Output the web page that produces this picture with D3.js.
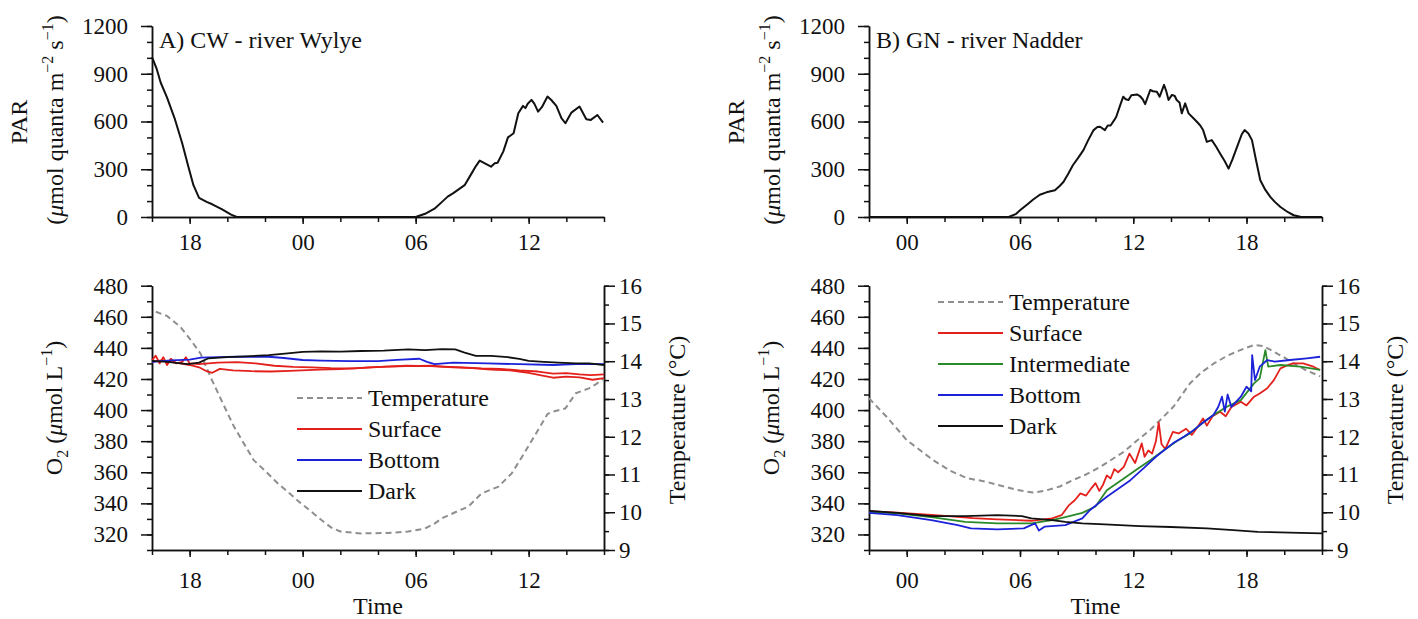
<!DOCTYPE html>
<html lang="en">
  <head>
    <meta charset="utf-8">
    <title>PAR, O2 and temperature - Wylye and Nadder</title>
    <style>
      body { margin: 0; background: #fff; }
      svg text { font-family: "Liberation Serif", "Times New Roman", serif; fill: #111; }
      .axis path, .axis line { stroke: #111; stroke-width: 1.5px; }
      .line { fill: none; stroke-linejoin: round; }
    </style>
  </head>
  <body>
    <svg id="wrapper" width="1418" height="619"></svg>

    <script src="https://cdnjs.cloudflare.com/ajax/libs/d3/7.8.5/d3.min.js"></script>
    <script>
    // time is in hours (day 1 hours continue past 24)
    // --- A) CW - river Wylye, 16:00 -> 16:00 ---
    const parA = [
      [16.0,1005],[16.25,930],[16.46,845],[16.8,750],[17.2,620],[17.6,465],[17.9,330],[18.2,200],
      [18.5,120],[18.9,95],[19.2,80],[19.7,50],[20.2,15],[20.5,0],[30.0,0],[30.5,20],[31.0,52],
      [31.4,95],[31.7,128],[32.0,150],[32.3,175],[32.6,200],[32.9,260],[33.2,320],[33.4,354],
      [33.7,335],[34.0,316],[34.2,338],[34.35,341],[34.65,411],[34.9,500],[35.2,526],[35.45,652],
      [35.7,698],[35.83,684],[35.95,712],[36.15,736],[36.3,712],[36.5,662],[36.7,690],[37.0,757],
      [37.2,735],[37.47,698],[37.74,621],[37.95,589],[38.27,656],[38.7,694],[39.06,614],[39.3,610],
      [39.65,641],[39.95,593]
    ];
    const tempA = [
      [16.2,15.31],[16.8,15.2],[17.5,14.91],[18.0,14.6],[18.58,14.2],[19.1,13.59],[19.7,12.95],
      [20.35,12.27],[21.4,11.38],[22.0,11.1],[22.67,10.77],[23.3,10.5],[23.9,10.24],[24.5,10.0],
      [24.98,9.8],[25.5,9.6],[26.0,9.49],[27.1,9.44],[28.5,9.45],[29.6,9.49],[30.5,9.57],[31.0,9.7],
      [31.4,9.84],[32.1,10.0],[32.8,10.15],[33.5,10.5],[34.4,10.68],[35.1,11.03],[35.65,11.47],
      [36.5,12.18],[37.0,12.6],[37.24,12.66],[37.95,12.75],[38.5,13.15],[39.2,13.28],[39.6,13.4],
      [40.0,13.55]
    ];
    const surfaceA1 = [
      [16.0,432],[16.2,435],[16.4,430],[16.6,434],[16.8,429],[17.0,433],[17.3,430],[17.6,431],
      [17.8,434],[18.0,430],[18.5,429.5],[19.0,430],[19.5,430.5],[20.5,430.8],[21.5,430],[22.5,428.5],
      [23.5,427.8],[24.5,427.5],[25.5,427],[26.7,426.8],[27.5,427.5],[28.5,428],[29.5,428.3],
      [30.8,428.5],[31.5,428],[32.5,427.5],[33.5,426.8],[34.5,426.5],[35.5,425.5],[36.5,424.8],
      [37.3,423.5],[38.0,423.8],[38.7,423],[39.3,422.5],[40,423]
    ];
    const surfaceA2 = [
      [16.0,431],[16.5,432],[17.0,431],[17.5,430],[18.0,429],[18.5,427.5],[18.9,425],[19.2,424],
      [19.6,426.5],[20.3,425.5],[21.3,425],[22.3,424.8],[23.3,425.2],[24.9,426],[26.0,426.3],
      [27.0,427],[28.4,428],[29.5,428.5],[30.8,428.3],[32.0,427.5],[33.0,427],[34.0,426],[35.0,425.5],
      [36.0,424],[36.8,422],[37.3,420.8],[38.0,421.5],[38.7,421],[39.4,419.5],[40,420.5]
    ];
    const bottomA = [
      [16.0,431],[17.0,432],[18.0,432.5],[18.6,433.7],[19.5,434],[20.5,434.3],[22.2,434.3],[23.0,433.5],
      [24.0,432.2],[25.0,431.8],[26.5,431.5],[28.0,431.5],[29.0,432.3],[30.2,433],[30.6,431],[31.0,429.5],
      [32.0,430.5],[33.8,430],[35.5,429.5],[37.3,429],[38.5,429.5],[40,429.5]
    ];
    const darkA = [
      [16.0,431.7],[16.8,431],[17.9,429.6],[18.5,430.5],[19.0,433.3],[20.0,434],[21.0,434.5],[22.2,435.4],
      [23.2,436.5],[24.0,437.5],[25.0,437.8],[26.0,437.6],[27.1,438],[28.3,438.3],[29.6,439],[30.5,438.6],
      [31.4,439.2],[32.1,439.0],[32.6,437],[33.2,434.8],[34.0,434.8],[34.9,434],[35.5,433],[36.0,431.7],
      [36.8,431],[37.6,430.5],[38.5,430],[39.2,430],[40,429]
    ];

    // --- B) GN - river Nadder, 22:00 -> 22:00 ---
    const parB = [
      [22,0],[29.4,0],[29.8,20],[30.0,42],[30.4,80],[30.7,110],[31.05,140],[31.4,155],[31.85,168],
      [32.1,195],[32.3,220],[32.55,270],[32.8,325],[33.1,375],[33.36,420],[33.6,480],[33.9,546],
      [34.1,565],[34.24,567],[34.5,546],[34.65,575],[34.8,575],[35.0,610],[35.1,630],[35.3,700],
      [35.47,756],[35.6,740],[35.75,735],[35.9,765],[36.0,767],[36.2,770],[36.35,760],[36.5,740],
      [36.63,709],[36.9,798],[37.05,790],[37.25,787],[37.4,756],[37.63,830],[37.75,790],[37.87,735],
      [38.05,767],[38.2,760],[38.3,735],[38.45,720],[38.57,651],[38.75,714],[38.93,651],[39.15,625],
      [39.37,598],[39.55,575],[39.7,546],[39.9,472],[40.16,483],[40.4,440],[40.6,399],[40.85,350],
      [41.05,304],[41.25,360],[41.5,440],[41.75,520],[41.9,546],[42.1,525],[42.29,483],[42.5,360],
      [42.73,231],[43.0,170],[43.26,126],[43.5,95],[43.8,63],[44.2,30],[44.5,11],[44.9,0],[46,0]
    ];
    const tempB = [
      [22,13.02],[22.93,12.53],[24.0,11.91],[25.4,11.38],[26.3,11.1],[27.2,10.9],[28.2,10.81],[29.0,10.7],
      [29.85,10.59],[30.7,10.52],[31.4,10.58],[32.1,10.68],[32.8,10.85],[33.5,11.0],[34.25,11.2],
      [35.5,11.6],[36.2,11.9],[36.9,12.18],[38.14,12.8],[39.0,13.41],[39.6,13.7],[40.27,13.94],
      [41.0,14.15],[41.7,14.3],[42.4,14.43],[42.9,14.4],[43.45,14.25],[44.0,14.1],[44.5,13.94],
      [45.2,13.75],[45.9,13.6]
    ];
    const surfaceB = [
      [22,335],[23.5,334],[25.3,332.5],[26.2,331.8],[27.5,330.5],[28.8,329.7],[30.6,328.8],[31.7,330.3],
      [32.2,332.4],[32.6,338.9],[32.9,342],[33.2,346.4],[33.5,345],[33.8,350],[34.0,353],[34.2,348],
      [34.4,352],[34.6,358],[34.8,356],[35.0,362],[35.2,360],[35.5,363.5],[35.8,372],[36.1,366],
      [36.45,378.6],[36.6,370],[36.8,374],[37.0,372],[37.2,380],[37.35,392],[37.5,378],[37.7,375],
      [38.1,386],[38.4,385],[38.8,388],[39.1,384],[39.4,389],[39.7,394.6],[39.9,390],[40.2,396],
      [40.6,398.9],[40.9,396],[41.2,402],[41.7,405.4],[42.0,403],[42.4,408.6],[42.7,410.7],[43.1,414],
      [43.45,419.3],[43.8,426.8],[44.2,429],[44.5,430],[45.0,430],[45.55,427.9],[45.9,425.8]
    ];
    const intermediateB = [
      [22,334.6],[23.5,333.5],[25.3,331.2],[27.1,328.1],[28.8,327.1],[30.6,327.1],[31.7,329.2],[32.4,331.2],
      [33.3,333.9],[34.0,338],[34.6,348.5],[35.5,356],[36.2,362],[36.9,367.8],[37.6,374],[38.3,380],
      [39.0,385],[39.6,391],[40.25,396.8],[40.96,402.1],[41.7,406.4],[42.4,417.2],[42.7,420.4],[43.0,438.6],
      [43.15,427.9],[43.8,429],[44.85,427.9],[45.9,425.8]
    ];
    const bottomB = [
      [22,333.9],[23.5,332.4],[25.3,329.2],[26.7,326],[27.4,323.9],[28.8,323.3],[30.2,323.9],[30.8,327.1],
      [31.0,322.5],[31.3,325],[32.4,326],[33.3,330.3],[33.7,335.6],[34.6,344.2],[35.85,354.9],[36.54,362.5],
      [37.2,370],[38.1,378.6],[38.7,383],[39.2,387.1],[39.7,392],[40.25,396.8],[40.5,402],[40.7,408.6],
      [40.85,399],[41.0,410],[41.2,402],[41.7,408.6],[42.0,415],[42.25,412],[42.3,435.4],[42.45,419.3],
      [42.7,427.9],[43.1,432.2],[43.5,431.1],[44.3,432.2],[45.2,433.3],[45.9,434.3]
    ];
    const darkB = [
      [22,335.2],[23.5,333.9],[25.3,331.8],[27.1,331.8],[28.8,332.4],[30.1,331.8],[30.6,330.3],[31.7,329.2],
      [32.4,328.1],[33.3,327.1],[34.5,326.5],[36.35,325.4],[38.0,324.8],[39.9,323.9],[41.3,322.8],
      [42.6,321.7],[44.3,321.2],[46,320.7]
    ];

    const parTicks = [0, 300, 600, 900, 1200];
    const o2Ticks = [320, 340, 360, 380, 400, 420, 440, 460, 480];
    const tempTicks = [9, 10, 11, 12, 13, 14, 15, 16];

    const cRed = '#e3201b', cBlue = '#1c22d8', cGreen = '#2a8a2a', cBlack = '#111', cGrey = '#8e8e8e';

    const svg = d3.select('#wrapper');
    const hourFmt = d => String(Math.round(d) % 24).padStart(2, '0');
    const intFmt = d3.format('d');

    function rotLabel(g, x, y, build) {
      const t = g.append('text')
        .attr('transform', 'translate(' + x + ',' + y + ') rotate(-90)')
        .attr('text-anchor', 'middle')
        .attr('font-size', 24);
      build(t);
    }

    function xAxis(g, x, y0, start, majors, labelY) {
      const minors = d3.range(start, start + 24.01, 2);
      g.append('g').attr('class', 'axis').attr('transform', 'translate(0,' + y0 + ')')
        .call(d3.axisBottom(x).tickValues(minors).tickSize(5).tickFormat('').tickSizeOuter(0));
      const ax = g.append('g').attr('class', 'axis').attr('transform', 'translate(0,' + y0 + ')')
        .call(d3.axisBottom(x).tickValues(majors).tickSize(7).tickFormat(hourFmt).tickSizeOuter(0));
      ax.selectAll('text').attr('y', labelY).attr('dy', null).attr('font-size', 23);
    }

    function panel(p) {
      const x = d3.scaleLinear().domain([p.start, p.start + 24]).range([p.x0, p.x1]);

      // ---------- PAR ----------
      const yP = d3.scaleLinear().domain([0, 1200]).range([217, 26]);
      const gt = svg.append('g');
      gt.append('g').attr('class', 'axis').attr('transform', 'translate(' + p.x0 + ',0)')
        .call(d3.axisLeft(yP).tickValues(d3.range(0, 1201, 100)).tickSize(5).tickFormat('').tickSizeOuter(0));
      gt.append('g').attr('class', 'axis').attr('transform', 'translate(' + p.x0 + ',0)')
        .call(d3.axisLeft(yP).tickValues(parTicks).tickSize(11).tickPadding(13).tickFormat(intFmt).tickSizeOuter(0))
        .selectAll('text').attr('font-size', 23);
      xAxis(gt, x, 217, p.start, p.majors, 33);

      gt.append('path').datum(p.par).attr('class', 'line')
        .attr('stroke', cBlack).attr('stroke-width', 2)
        .attr('d', d3.line().x(d => x(d[0])).y(d => yP(d[1])));

      gt.append('text').attr('x', p.x0 + 7).attr('y', 48).attr('font-size', 24).text(p.title);

      rotLabel(gt, p.x0 - 125, 122, t => t.text('PAR'));
      rotLabel(gt, p.x0 - 89, 120, t => {
        t.append('tspan').text('(');
        t.append('tspan').attr('font-style', 'italic').text('\u03bc');
        t.append('tspan').text('mol quanta m');
        t.append('tspan').attr('font-size', 16).attr('dy', -10).text('\u22122');
        t.append('tspan').attr('dy', 10).text(' s');
        t.append('tspan').attr('font-size', 16).attr('dy', -10).text('\u22121');
        t.append('tspan').attr('dy', 10).text(')');
      });

      // ---------- O2 + temperature ----------
      const yO = d3.scaleLinear().domain([310, 480]).range([550, 285.7]);
      const yT = d3.scaleLinear().domain([9, 16]).range([550, 285.7]);
      const gb = svg.append('g');
      gb.append('g').attr('class', 'axis').attr('transform', 'translate(' + p.x0 + ',0)')
        .call(d3.axisLeft(yO).tickValues(d3.range(310, 481, 10)).tickSize(5).tickFormat('').tickSizeOuter(0));
      gb.append('g').attr('class', 'axis').attr('transform', 'translate(' + p.x0 + ',0)')
        .call(d3.axisLeft(yO).tickValues(o2Ticks).tickSize(11).tickPadding(13).tickFormat(intFmt).tickSizeOuter(0))
        .selectAll('text').attr('font-size', 23);
      gb.append('g').attr('class', 'axis').attr('transform', 'translate(' + p.x1 + ',0)')
        .call(d3.axisRight(yT).tickValues(d3.range(9, 16.01, 0.5)).tickSize(5).tickFormat('').tickSizeOuter(0));
      gb.append('g').attr('class', 'axis').attr('transform', 'translate(' + p.x1 + ',0)')
        .call(d3.axisRight(yT).tickValues(tempTicks).tickSize(11).tickPadding(4).tickFormat(intFmt).tickSizeOuter(0))
        .selectAll('text').attr('font-size', 23);
      xAxis(gb, x, 550, p.start, p.majors, 38);

      const lineO = d3.line().x(d => x(d[0])).y(d => yO(d[1]));
      const lineT = d3.line().x(d => x(d[0])).y(d => yT(d[1]));

      gb.append('path').datum(p.temp).attr('class', 'line')
        .attr('stroke', cGrey).attr('stroke-width', 2).attr('stroke-dasharray', '6,4')
        .attr('d', lineT);
      p.series.forEach(s => {
        s.data.forEach(arr => {
          gb.append('path').datum(arr).attr('class', 'line')
            .attr('stroke', s.color).attr('stroke-width', 1.8).attr('d', lineO);
        });
      });

      // legend
      const leg = [{name: 'Temperature', color: cGrey, dash: '6,4'}].concat(p.series);
      leg.forEach((s, i) => {
        const ly = p.legY + i * 31;
        gb.append('line').attr('x1', p.legX).attr('x2', p.legX + 65).attr('y1', ly).attr('y2', ly)
          .attr('stroke', s.color).attr('stroke-width', s.dash ? 2 : 1.8)
          .attr('stroke-dasharray', s.dash || null);
        gb.append('text').attr('x', p.legX + 71).attr('y', ly + 8).attr('font-size', 24).text(s.name);
      });

      gb.append('text').attr('x', (p.x0 + p.x1) / 2).attr('y', 614)
        .attr('text-anchor', 'middle').attr('font-size', 24).text('Time');

      rotLabel(gb, p.x0 - 90, 408, t => {
        t.append('tspan').text('O');
        t.append('tspan').attr('font-size', 16).attr('dy', 6).text('2');
        t.append('tspan').attr('dy', -6).text(' (');
        t.append('tspan').attr('font-style', 'italic').text('\u03bc');
        t.append('tspan').text('mol L');
        t.append('tspan').attr('font-size', 16).attr('dy', -10).text('\u22121');
        t.append('tspan').attr('dy', 10).text(')');
      });
      rotLabel(gb, p.x1 + 81, 420, t => t.text('Temperature (\u00b0C)'));
    }

    panel({
      x0: 152, x1: 604, start: 16, majors: [18, 24, 30, 36],
      title: 'A) CW - river Wylye', par: parA, temp: tempA,
      series: [
        {name: 'Surface', color: cRed, data: [surfaceA1, surfaceA2]},
        {name: 'Bottom', color: cBlue, data: [bottomA]},
        {name: 'Dark', color: cBlack, data: [darkA]}
      ],
      legX: 297, legY: 398
    });

    panel({
      x0: 869, x1: 1322, start: 22, majors: [24, 30, 36, 42],
      title: 'B) GN - river Nadder', par: parB, temp: tempB,
      series: [
        {name: 'Surface', color: cRed, data: [surfaceB]},
        {name: 'Intermediate', color: cGreen, data: [intermediateB]},
        {name: 'Bottom', color: cBlue, data: [bottomB]},
        {name: 'Dark', color: cBlack, data: [darkB]}
      ],
      legX: 938, legY: 302
    });
    </script>
  </body>
</html>
